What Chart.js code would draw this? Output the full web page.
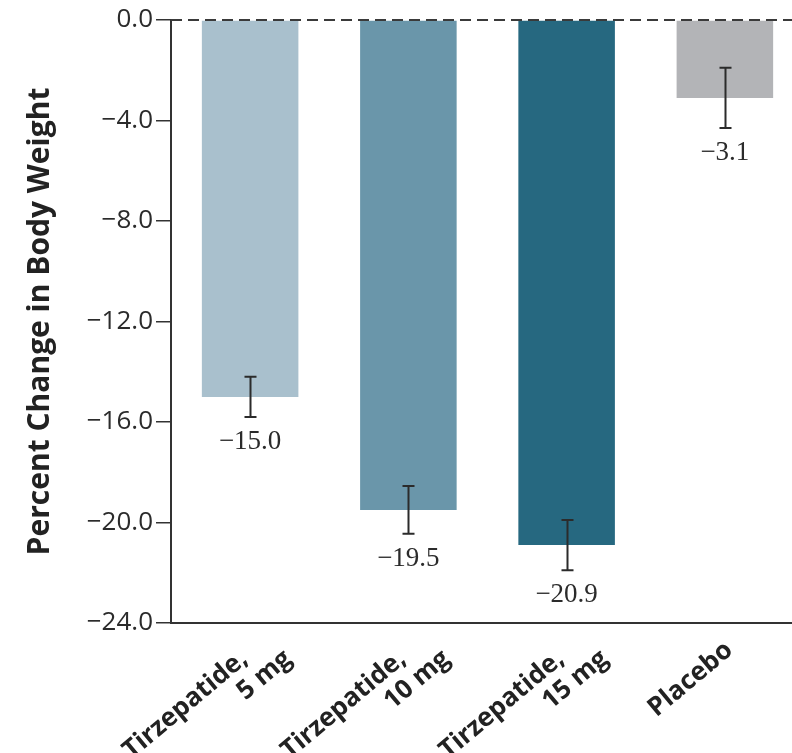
<!DOCTYPE html>
<html>
<head>
<meta charset="utf-8">
<script src="https://cdn.jsdelivr.net/npm/chart.js@4.4.0/dist/chart.umd.min.js"></script>
<style>
  html, body { margin: 0; padding: 0; background: #ffffff; }
  #wrap { width: 792px; height: 753px; overflow: hidden; position: relative; }
  canvas { display: block; }
</style>
</head>
<body>
<div id="wrap"><canvas id="c" width="812" height="753"></canvas></div>
<script>
// ---- data ----
const categories = [
  ["Tirzepatide,     ", "5 mg"],
  ["Tirzepatide,     ", "10 mg"],
  ["Tirzepatide,     ", "15 mg"],
  "Placebo   "
];
const meanChange = [-15.0, -19.5, -20.9, -3.1];
const errorHalfWidth = [0.8, 0.95, 1.0, 1.2];
const valueLabels = ["\u221215.0", "\u221219.5", "\u221220.9", "\u22123.1"];
const barColors = ["#a9c0cd", "#6a96aa", "#266880", "#b3b4b7"];
const yTickValues = [0, -4, -8, -12, -16, -20, -24];

const INK = "#2b2b2b";

const overlayPlugin = {
  id: "overlay",
  afterDatasetsDraw(chart) {
    const ctx = chart.ctx;
    const x = chart.scales.x, y = chart.scales.y;
    const area = chart.chartArea;
    ctx.save();
    // dashed zero line
    ctx.strokeStyle = "#3a3a3a";
    ctx.lineWidth = 2;
    ctx.setLineDash([11, 6]);
    const y0 = Math.round(y.getPixelForValue(0));
    ctx.beginPath();
    ctx.moveTo(area.left, y0);
    ctx.lineTo(area.right, y0);
    ctx.stroke();
    ctx.setLineDash([]);
    // error bars + value labels
    const meta = chart.getDatasetMeta(0);
    meta.data.forEach((bar, i) => {
      const cx = Math.round(bar.x) + 0.5;
      const yTop = y.getPixelForValue(meanChange[i] + errorHalfWidth[i]);
      const yBot = y.getPixelForValue(meanChange[i] - errorHalfWidth[i]);
      ctx.strokeStyle = INK;
      ctx.lineWidth = 2;
      ctx.beginPath();
      ctx.moveTo(cx, yTop); ctx.lineTo(cx, yBot);
      ctx.moveTo(cx - 6, yTop); ctx.lineTo(cx + 6, yTop);
      ctx.moveTo(cx - 6, yBot); ctx.lineTo(cx + 6, yBot);
      ctx.stroke();
      ctx.fillStyle = INK;
      ctx.font = "27px 'Liberation Serif'";
      ctx.textAlign = "center";
      ctx.textBaseline = "middle";
      ctx.fillText(valueLabels[i], bar.x, yBot + 25);
    });
    ctx.restore();
  }
};

new Chart(document.getElementById("c"), {
  type: "bar",
  data: {
    labels: categories,
    datasets: [{
      data: meanChange,
      backgroundColor: barColors,
      borderWidth: 0,
      barPercentage: 0.61,
      categoryPercentage: 1.0
    }]
  },
  options: {
    responsive: false,
    animation: false,
    layout: { padding: { top: 20, right: 8, left: 0, bottom: 0 } },
    plugins: { legend: { display: false }, tooltip: { enabled: false } },
    scales: {
      x: {
        grid: { display: false, drawTicks: false },
        border: { display: true, color: "#333333", width: 2 },
        ticks: {
          color: "#222222",
          font: { family: "'Open Sans'", size: 26, weight: "bold", lineHeight: 1.08 },
          minRotation: 40,
          maxRotation: 40,
          autoSkip: false,
          padding: 0,
          labelOffset: 20
        },
        afterFit(scale) { scale.height = 130; }
      },
      y: {
        min: -24,
        max: 0,
        afterBuildTicks(scale) { scale.ticks = yTickValues.map(v => ({ value: v })); },
        grid: { display: true, drawOnChartArea: false, drawTicks: true, tickLength: 15, color: "#333333", lineWidth: 1.5 },
        border: { display: true, color: "#333333", width: 2 },
        ticks: {
          color: "#2b2b2b",
          font: { family: "'Open Sans'", size: 26 },
          padding: 3,
          callback(v) { return (v < 0 ? "\u2212" : "") + Math.abs(v).toFixed(1); }
        },
        title: {
          display: true,
          text: "Percent Change in Body Weight",
          color: "#222222",
          font: { family: "'Open Sans'", size: 30, weight: "bold", lineHeight: 1.2 },
          padding: { top: 22, bottom: 0 }
        },
        afterFit(scale) { scale.width = 171; }
      }
    }
  },
  plugins: [overlayPlugin]
});
</script>
</body>
</html>
